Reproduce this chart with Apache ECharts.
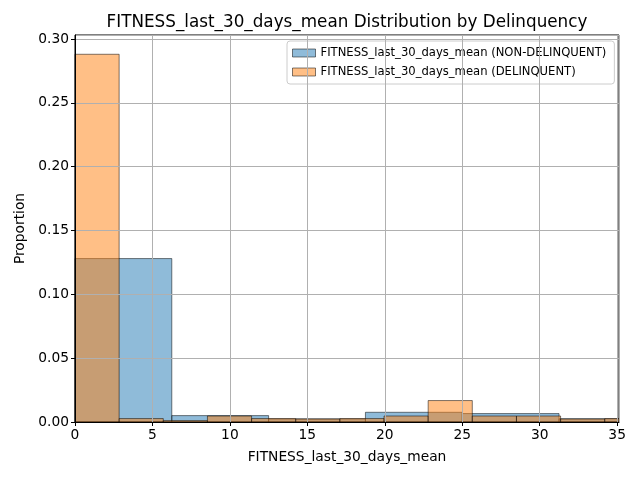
<!DOCTYPE html>
<html>
<head>
    <meta charset="utf-8">
    <script src="https://cdn.jsdelivr.net/npm/echarts@6/dist/echarts.min.js"></script>
    <style>
        html, body { margin: 0; padding: 0; background: #fff; }
    </style>
</head>
<body>
	<div id="main" style="width: 640px; height: 480px;"></div>
	<script type="text/javascript">
		// bin edges (width 6.25 and 2.85)
		var nonDelinquentEdges = [0, 6.25, 12.5, 18.75, 25, 31.25, 37.5]
		var nonDelinquentProp = [0.128, 0.0050, 0.0024, 0.0076, 0.0066, 0.0025]
		var delinquentEdges = [0, 2.85, 5.7, 8.55, 11.4, 14.25, 17.1, 19.95, 22.8, 25.65, 28.5, 31.35, 34.2, 37.05]
		var delinquentProp = [0.288, 0.0027, 0.0011, 0.0047, 0.0027, 0.0024, 0.0027, 0.0047, 0.0168, 0.0047, 0.0047, 0.0024, 0.0027]
		var xTicks = [0, 5, 10, 15, 20, 25, 30, 35]
		var yTicks = [0, 0.05, 0.10, 0.15, 0.20, 0.25, 0.30]
		var seriesNames = ['FITNESS_last_30_days_mean (NON-DELINQUENT)', 'FITNESS_last_30_days_mean (DELINQUENT)']

		function toBins(edges, props){
			var out = []
			for (var i = 0; i < props.length; i++){
				out.push([edges[i], edges[i+1], props[i]])
			}
			return out
		}

		var blueFill = 'rgba(31,119,180,0.5)'
		var orangeFill = 'rgba(255,127,14,0.5)'
		var edgeCol = 'rgba(0,0,0,0.5)'

		function makeRender(fill){
			return function (params, api){
				var p0 = api.coord([api.value(0), api.value(2)])
				var p1 = api.coord([api.value(1), 0])
				var cs = params.coordSys
				var shape = echarts.graphic.clipRectByRect(
					{x: p0[0], y: p0[1], width: p1[0] - p0[0], height: p1[1] - p0[1]},
					{x: cs.x, y: cs.y, width: cs.width, height: cs.height})
				if (!shape) return
				return {type: 'rect', shape: shape, style: {fill: fill, stroke: edgeCol, lineWidth: 1}}
			}
		}

		var myChart = echarts.init(document.getElementById('main'))
		var font = 'DejaVu Sans'
option = {
    backgroundColor: '#fff',
    animation: false,
    title: {
        text: 'FITNESS_last_30_days_mean Distribution by Delinquency',
        left: 342,
        top: 9,
        textAlign: 'center',
        textStyle: {fontFamily: font, fontSize: 16.8, fontWeight: 'normal', color: '#000'}
    },
    legend: {
        orient: 'vertical',
        left: 287,
        top: 41,
        padding: [6, 8, 6, 5],
        itemGap: 7,
        itemWidth: 23,
        itemHeight: 8,
        borderColor: '#cccccc',
        borderWidth: 1,
        borderRadius: 3,
        backgroundColor: 'rgba(255,255,255,0.8)',
        textStyle: {fontFamily: font, fontSize: 11.6, color: '#000'},
        data: [
            {name: seriesNames[0], icon: 'rect', itemStyle: {color: blueFill, borderColor: edgeCol, borderWidth: 1}},
            {name: seriesNames[1], icon: 'rect', itemStyle: {color: orangeFill, borderColor: edgeCol, borderWidth: 1}}
        ]
    },
    grid: {
        left: 75, right: 21, top: 35, bottom: 58,
        show: true, borderColor: '#000', borderWidth: 1
    },
    xAxis: {
        type: 'value',
        min: 0, max: 35.12, interval: 5,
        z: 5,
        name: 'FITNESS_last_30_days_mean',
        nameLocation: 'middle',
        nameGap: 28,
        nameTextStyle: {fontFamily: font, fontSize: 13.8, color: '#000'},
        axisLine: {show: true, onZero: false, lineStyle: {color: '#000'}},
        axisTick: {show: true, inside: false, length: 4, lineStyle: {color: '#000'}},
        axisLabel: {
            fontFamily: font, fontSize: 13.8, color: '#000', margin: 6, showMaxLabel: false,
            formatter: function (v){ return xTicks.indexOf(v) >= 0 ? String(v) : '' }
        },
        splitLine: {show: true, lineStyle: {color: '#b0b0b0', width: 1}}
    },
    yAxis: {
        type: 'value',
        min: 0, max: 0.3031, interval: 0.05,
        z: 5,
        name: 'Proportion',
        nameLocation: 'middle',
        nameGap: 45,
        nameTextStyle: {fontFamily: font, fontSize: 13.8, color: '#000'},
        axisLine: {show: true, onZero: false, lineStyle: {color: '#000'}},
        axisTick: {show: true, inside: false, length: 4, lineStyle: {color: '#000'}},
        axisLabel: {
            fontFamily: font, fontSize: 13.8, color: '#000', margin: 6, showMaxLabel: false,
            formatter: function (v){
                for (var i = 0; i < yTicks.length; i++){
                    if (Math.abs(yTicks[i] - v) < 1e-9) return v.toFixed(2)
                }
                return ''
            }
        },
        splitLine: {show: true, lineStyle: {color: '#b0b0b0', width: 1}}
    },
    series: [{
        name: seriesNames[0],
        type: 'custom',
        renderItem: makeRender(blueFill),
        itemStyle: {color: blueFill, borderColor: edgeCol},
        encode: {x: [0, 1], y: 2},
        data: toBins(nonDelinquentEdges, nonDelinquentProp),
        z: 2
    }, {
        name: seriesNames[1],
        type: 'custom',
        renderItem: makeRender(orangeFill),
        itemStyle: {color: orangeFill, borderColor: edgeCol},
        encode: {x: [0, 1], y: 2},
        data: toBins(delinquentEdges, delinquentProp),
        z: 3
    }]
};
	myChart.setOption(option)
	</script>
</body>
</html>
